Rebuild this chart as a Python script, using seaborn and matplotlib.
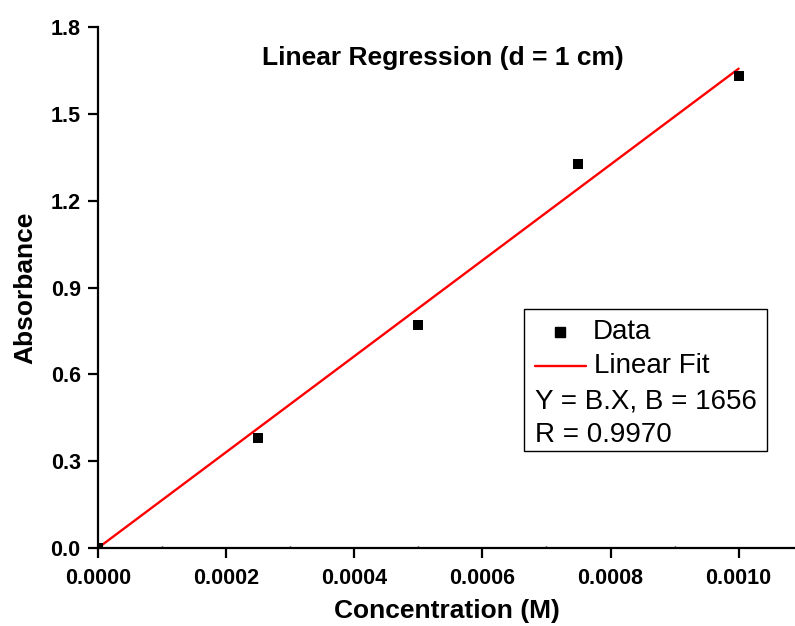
import matplotlib
matplotlib.use("Agg")
import matplotlib.pyplot as plt
import seaborn as sns
import pandas as pd
from matplotlib.patches import Rectangle
from matplotlib.lines import Line2D
from matplotlib.ticker import MultipleLocator

# Data
conc = [0.0, 0.00025, 0.0005, 0.00075, 0.0010]
absorbance = [0.0, 0.38, 0.77, 1.325, 1.63]
fit_x = [0.0, 0.0010]
fit_y = [0.0, 1.656]
x_ticks = [0.0, 0.0002, 0.0004, 0.0006, 0.0008, 0.0010]
x_tick_labels = ["0.0000", "0.0002", "0.0004", "0.0006", "0.0008", "0.0010"]
y_ticks = [0.0, 0.3, 0.6, 0.9, 1.2, 1.5, 1.8]
y_tick_labels = ["0.0", "0.3", "0.6", "0.9", "1.2", "1.5", "1.8"]
title = "Linear Regression (d = 1 cm)"
legend_labels = ["Data", "Linear Fit"]
eq_lines = ["Y = B.X, B = 1656", "R = 0.9970"]

sns.set_theme(style="ticks")
plt.rcParams["font.family"] = ["Liberation Sans", "DejaVu Sans"]
plt.rcParams["text.color"] = "black"
plt.rcParams["axes.labelcolor"] = "black"

df = pd.DataFrame({"x": conc, "y": absorbance})
fit_df = pd.DataFrame({"x": fit_x, "y": fit_y})
W, H = 795, 626
AX_L, AX_R, AX_T, AX_B = 98, 795, 27, 548
fig = plt.figure(figsize=(W / 100, H / 100), dpi=100)
ax = fig.add_axes([AX_L / W, (H - AX_B) / H, (AX_R - AX_L) / W, (AX_B - AX_T) / H])


def ax_xy(px, py):
    """Convert reference pixel coordinates to axes fraction coordinates."""
    return (px - AX_L) / (AX_R - AX_L), (AX_B - py) / (AX_B - AX_T)


sns.lineplot(data=fit_df, x="x", y="y", ax=ax, color="#ff0000", linewidth=1.7, zorder=2)
sns.scatterplot(data=df, x="x", y="y", ax=ax, marker="s", s=62, color="black",
                edgecolor="black", linewidth=0, zorder=3)
ax.set_xlim(0, 0.001088)
ax.set_ylim(0, 1.8)
ax.set_xticks(x_ticks)
ax.set_xticklabels(x_tick_labels)
ax.set_yticks(y_ticks)
ax.set_yticklabels(y_tick_labels)
ax.xaxis.set_minor_locator(MultipleLocator(0.0001))

for s in ["top", "right"]:
    ax.spines[s].set_visible(False)
for s in ["left", "bottom"]:
    ax.spines[s].set_linewidth(1.6)
    ax.spines[s].set_color("black")

ax.tick_params(axis="both", which="major", direction="out", length=7.5, width=1.6,
               color="black", labelsize=15.5, labelcolor="black",
               bottom=True, left=True, top=False, right=False)
ax.tick_params(axis="x", which="major", pad=7)
ax.tick_params(axis="y", which="major", pad=5)
ax.tick_params(axis="x", which="minor", direction="in", length=1.2, width=1.0,
               color="black", bottom=True, top=False)
for lab in ax.get_xticklabels() + ax.get_yticklabels():
    lab.set_fontweight("bold")
ax.set_xlabel("Concentration (M)", fontsize=19, fontweight="bold", labelpad=7, color="black")
ax.set_ylabel("Absorbance", fontsize=19, fontweight="bold", labelpad=9.5, color="black")

# title inside the plot area
tx, ty = ax_xy(443, 58)
ax.text(tx, ty, title, transform=ax.transAxes, ha="center", va="center",
        fontsize=19, fontweight="bold", color="black")

# legend box with entries and fit statistics (axes coordinates)
bx0, by0 = ax_xy(524, 451)
bx1, by1 = ax_xy(767, 309)
ax.add_patch(Rectangle((bx0, by0), bx1 - bx0, by1 - by0, transform=ax.transAxes,
                       fill=False, edgecolor="black", linewidth=1.0, zorder=5,
                       clip_on=False))
mx, my = ax_xy(560, 332)
ax.add_line(Line2D([mx], [my], marker="s", color="black", linestyle="none",
                   markersize=7.5, transform=ax.transAxes, clip_on=False, zorder=5))
lx0, ly = ax_xy(535, 366)
lx1, _ = ax_xy(586, 366)
ax.add_line(Line2D([lx0, lx1], [ly, ly], color="#ff0000", linewidth=1.7,
                   transform=ax.transAxes, clip_on=False, zorder=5))
t1x, t1y = ax_xy(593, 332)
ax.text(t1x, t1y, legend_labels[0], transform=ax.transAxes, ha="left", va="center",
        fontsize=20, color="black")
t2x, t2y = ax_xy(594, 366)
ax.text(t2x, t2y, legend_labels[1], transform=ax.transAxes, ha="left", va="center",
        fontsize=20, color="black")
for i, t in enumerate(eq_lines):
    ex, ey = ax_xy(535, 401 + 34 * i)
    ax.text(ex, ey, t, transform=ax.transAxes, ha="left", va="center",
            fontsize=20, color="black")

fig.savefig("out.png", dpi=100)
